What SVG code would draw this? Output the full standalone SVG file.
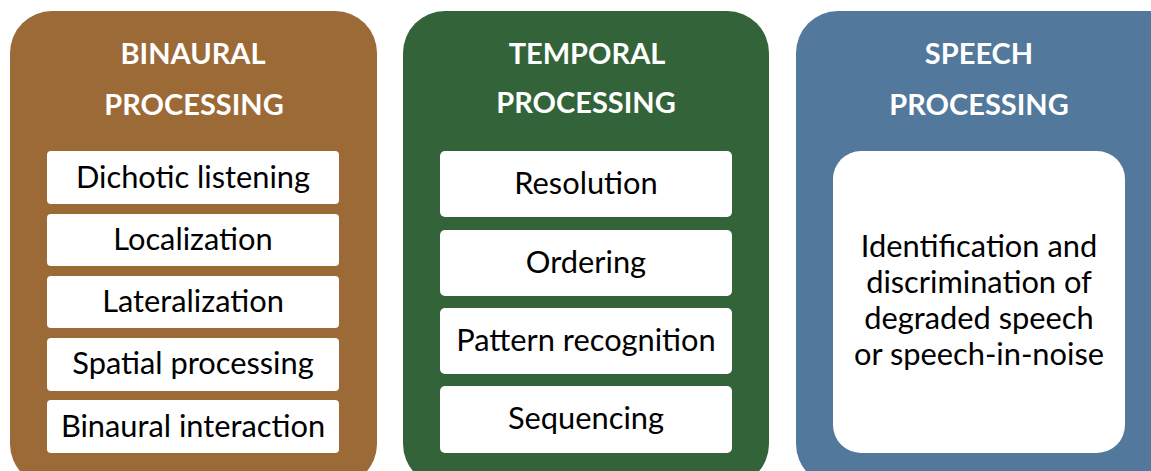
<svg xmlns="http://www.w3.org/2000/svg" width="1151" height="471" viewBox="0 0 1151 471">
<style>
.title{font-family:Lato,"Open Sans",sans-serif;font-weight:bold;font-size:29px;fill:#fff;text-anchor:middle}
.item{font-family:Lato,"Open Sans",sans-serif;font-size:30.8px;fill:#000;text-anchor:middle}
.box{fill:#fff}
</style>
<rect width="1151" height="471" fill="#fff"/>
<g id="binaural">
<rect x="10" y="11" width="367" height="475" rx="42" fill="#9C6A37"/>
<text class="title" x="193" y="64">BINAURAL</text>
<text class="title" x="194" y="115">PROCESSING</text>
<rect class="box" x="47" y="151" width="292" height="53" rx="4"/>
<text class="item" x="193" y="188">Dichotic listening</text>
<rect class="box" x="47" y="214" width="292" height="52" rx="4"/>
<text class="item" x="193" y="250">Localization</text>
<rect class="box" x="47" y="276" width="292" height="52" rx="4"/>
<text class="item" x="193" y="312">Lateralization</text>
<rect class="box" x="47" y="338" width="292" height="53" rx="4"/>
<text class="item" x="193" y="374">Spatial processing</text>
<rect class="box" x="47" y="400" width="292" height="53" rx="4"/>
<text class="item" x="193" y="437">Binaural interaction</text>
</g>
<g id="temporal">
<rect x="403" y="11" width="366" height="475" rx="42" fill="#336338"/>
<text class="title" x="587" y="64">TEMPORAL</text>
<text class="title" x="586" y="113">PROCESSING</text>
<rect class="box" x="440" y="151" width="292" height="66" rx="5"/>
<text class="item" x="586" y="194">Resolution</text>
<rect class="box" x="440" y="230" width="292" height="66" rx="5"/>
<text class="item" x="586" y="273">Ordering</text>
<rect class="box" x="440" y="308" width="292" height="66" rx="5"/>
<text class="item" x="586" y="351">Pattern recognition</text>
<rect class="box" x="440" y="386" width="292" height="67" rx="5"/>
<text class="item" x="586" y="429">Sequencing</text>
</g>
<g id="speech">
<rect x="796" y="11" width="400" height="475" rx="42" fill="#52789C"/>
<text class="title" x="979" y="64">SPEECH</text>
<text class="title" x="979" y="115">PROCESSING</text>
<rect class="box" x="833" y="151" width="292" height="302" rx="28"/>
<text class="item" x="979" y="257">Identification and</text>
<text class="item" x="979" y="293">discrimination of</text>
<text class="item" x="979" y="329">degraded speech</text>
<text class="item" x="979" y="365">or speech-in-noise</text>
</g>
<g id="connectors"/>
</svg>
